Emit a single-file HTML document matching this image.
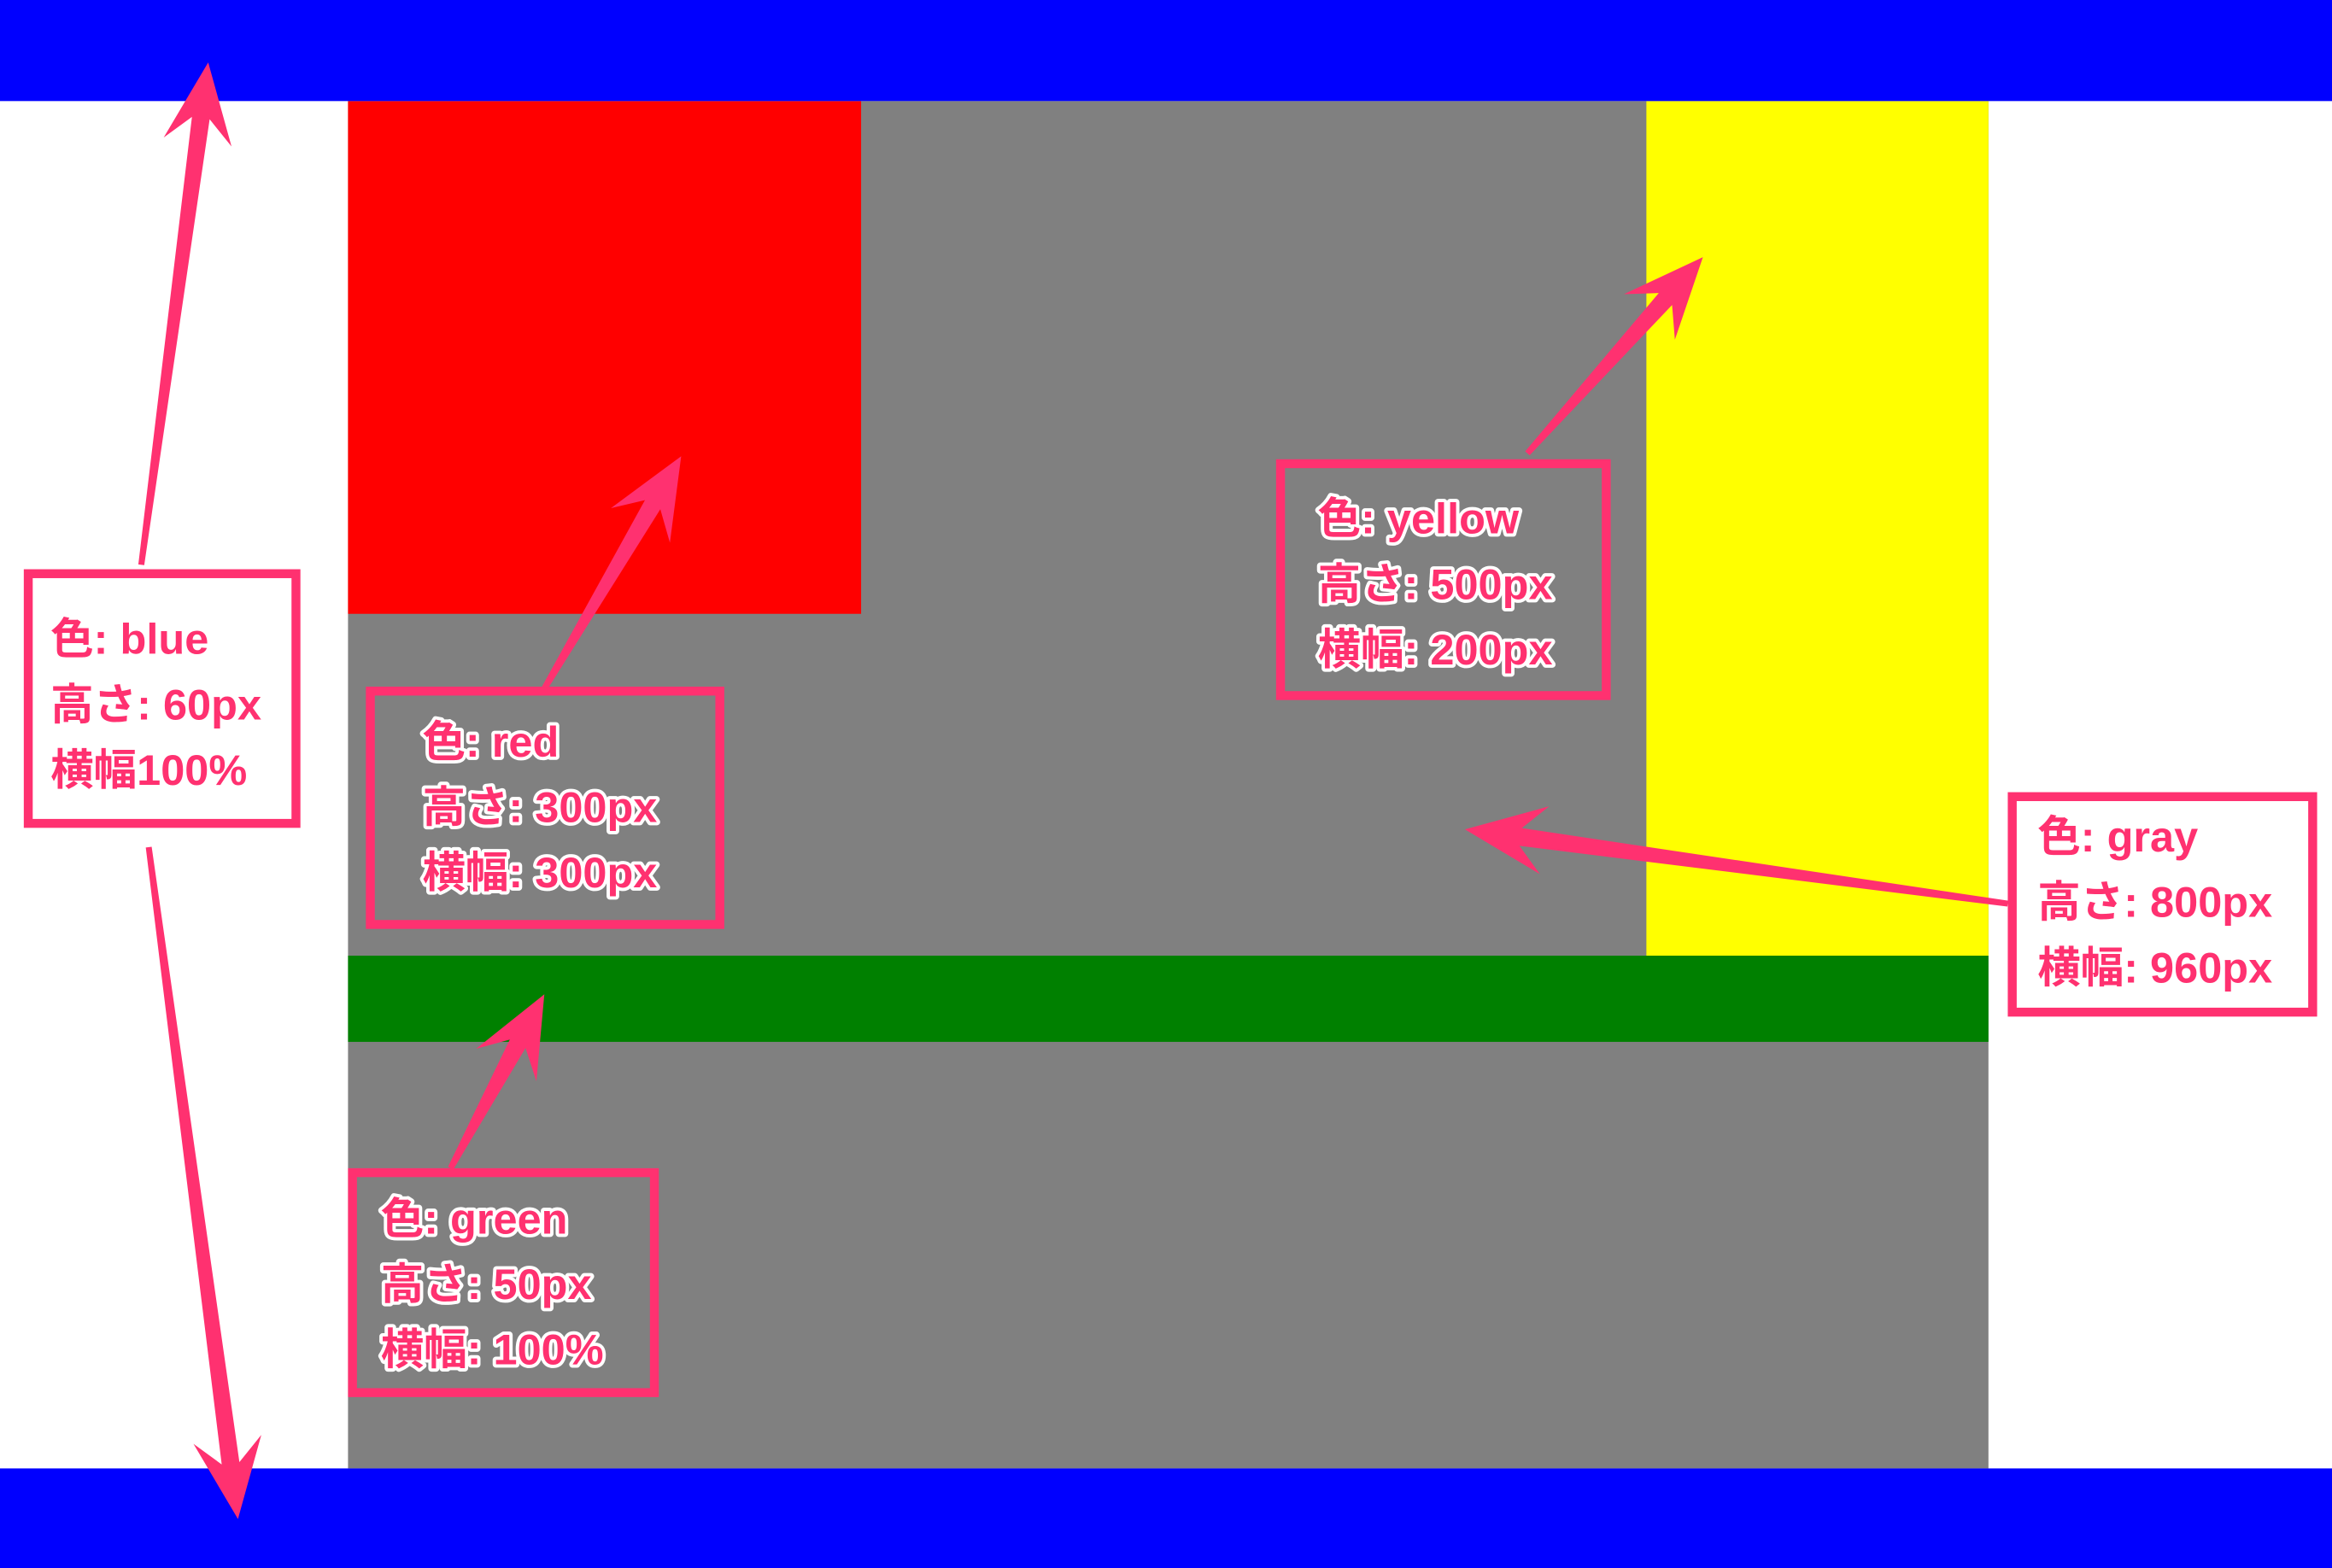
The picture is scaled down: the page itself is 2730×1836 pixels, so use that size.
<!DOCTYPE html>
<html><head><meta charset="utf-8"><style>
html,body{margin:0;padding:0;width:2730px;height:1836px;overflow:hidden;background:#fff}
svg{display:block}
text{font-family:"Liberation Sans","Noto Sans CJK JP",sans-serif;font-size:29px;font-weight:bold;fill:#ff3170;stroke:#fff;stroke-width:4.5px;paint-order:stroke;stroke-linejoin:round}
</style></head><body>
<svg width="2730" height="1836" viewBox="0 0 1568 1055" preserveAspectRatio="none">
<rect x="0" y="0" width="1568" height="1055" fill="#fff"/>
<rect x="234" y="68" width="1103" height="920" fill="#808080"/>
<rect x="234" y="68" width="345" height="345" fill="#ff0000"/>
<rect x="1107" y="68" width="230" height="575" fill="#ffff00"/>
<rect x="234" y="643" width="1103" height="58" fill="#008000"/>
<rect x="0" y="0" width="1568" height="68" fill="#0000ff"/>
<rect x="0" y="988" width="1568" height="67" fill="#0000ff"/>
<g id="arrows"></g>

<g>
<rect x="19" y="386" width="180" height="168" fill="#fff" stroke="#ff3170" stroke-width="6"/>
<text x="34" y="440">色: blue</text><text x="34" y="484">高さ: 60px</text><text x="34" y="528">横幅100%</text>
</g>
<g>
<rect x="249" y="465" width="235" height="157" fill="#808080" stroke="#ff3170" stroke-width="6"/>
<text x="284" y="509">色: red</text><text x="284" y="553">高さ: 300px</text><text x="284" y="597">横幅: 300px</text>
</g>
<g>
<rect x="861" y="312" width="219" height="156" fill="#808080" stroke="#ff3170" stroke-width="6"/>
<text x="886" y="359">色: yellow</text><text x="886" y="403">高さ: 500px</text><text x="886" y="447">横幅: 200px</text>
</g>
<g>
<rect x="1353" y="536" width="202" height="145" fill="#fff" stroke="#ff3170" stroke-width="6"/>
<text x="1370" y="573">色: gray</text><text x="1370" y="617">高さ: 800px</text><text x="1370" y="661">横幅: 960px</text>
</g>
<g>
<rect x="237" y="789" width="203" height="148" fill="#808080" stroke="#ff3170" stroke-width="6"/>
<text x="256" y="830">色: green</text><text x="256" y="874">高さ: 50px</text><text x="256" y="918">横幅: 100%</text>
</g>
</svg>
<script>
const arrowFrom=[[95,380],[100,570],[365,465],[1027,305],[1350,608],[303,786]];
const arrowTo=[[140,42],[160,1022],[458,307],[1145,173],[985,558],[366,669]];
const arrowNames=['blue-top-arrow','blue-bottom-arrow','red-arrow','yellow-arrow','gray-arrow','green-arrow'];
const g=document.getElementById('arrows');
const NS='http://www.w3.org/2000/svg';
for(let i=0;i<arrowFrom.length;i++){
  const [x1,y1]=arrowFrom[i],[x2,y2]=arrowTo[i];
  const dx=x2-x1,dy=y2-y1,L=Math.hypot(dx,dy),ux=dx/L,uy=dy/L,px=-uy,py=ux;
  const hl=54,hw=23;
  const bx=x2-ux*hl,by=y2-uy*hl;
  const nx=x2-ux*hl*0.7,ny=y2-uy*hl*0.7;
  const pts=[[x1+px*2,y1+py*2],[nx+px*6,ny+py*6],[bx+px*hw,by+py*hw],[x2,y2],[bx-px*hw,by-py*hw],[nx-px*6,ny-py*6],[x1-px*2,y1-py*2]];
  const p=document.createElementNS(NS,'polygon');
  p.setAttribute('points',pts.map(q=>q.join(',')).join(' '));
  p.setAttribute('fill','#ff3170');
  
  
  g.appendChild(p);
}
</script>
</body></html>
